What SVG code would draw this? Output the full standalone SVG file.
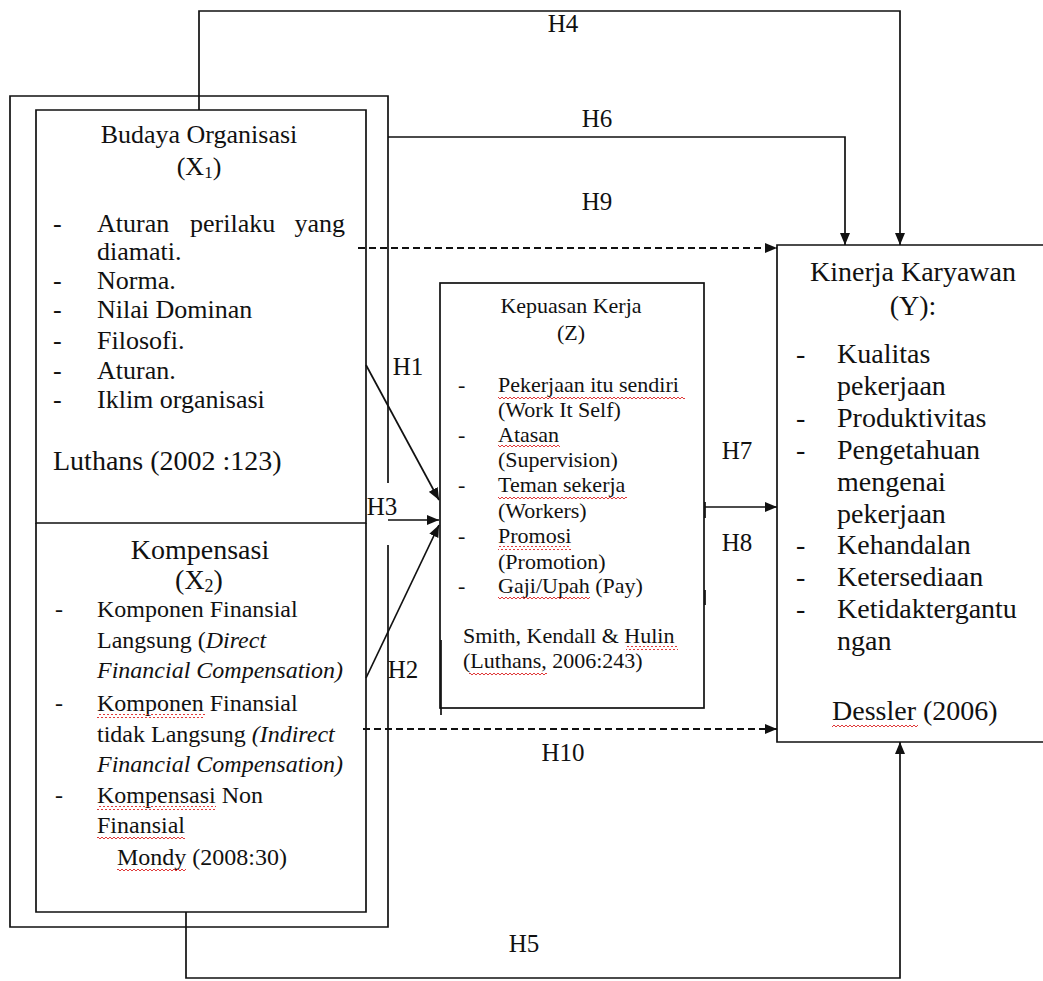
<svg xmlns="http://www.w3.org/2000/svg" width="1043" height="981" viewBox="0 0 1043 981" font-family="'Liberation Serif', 'DejaVu Serif', serif">
<style>
text{font-family:'Liberation Serif','DejaVu Serif',serif;fill:#111}
.t26{font-size:26px}.t28{font-size:28px}.t24{font-size:24px}.t22{font-size:22px}
.lbl{font-size:25px;text-anchor:middle}
.mid{text-anchor:middle}
.it{font-style:italic}
.box{fill:none;stroke:#111;stroke-width:1.7}
.ln{fill:none;stroke:#111;stroke-width:1.7}
.dash{fill:none;stroke:#111;stroke-width:1.8;stroke-dasharray:7 4}
.wv{fill:url(#wavy)}
</style>
<defs>
<marker id="arr" markerUnits="userSpaceOnUse" markerWidth="13" markerHeight="10" refX="12" refY="5" orient="auto">
<path d="M0,0 L12,5 L0,10 z" fill="#111"/>
</marker>
<pattern id="wavy" width="4" height="4" patternUnits="userSpaceOnUse">
<path d="M0,3 L2,1 L4,3" fill="none" stroke="#d22" stroke-width="0.9"/>
</pattern>
</defs>
<rect width="1043" height="981" fill="#fff"/>

<g id="outer-box">
<path class="box" d="M388,483 V96 H10 V927 H388 V545"/>
</g>

<g id="budaya-organisasi">
<path class="box" d="M36,523 V110 H366 V523 Z"/>
<text class="t26 mid" x="199" y="143">Budaya Organisasi</text>
<text class="t26 mid" x="199" y="175">(X<tspan font-size="17" dy="3">1</tspan><tspan dy="-3">)</tspan></text>
<text class="t26" x="53" y="232">-</text>
<text class="t26" x="97" y="232">Aturan</text>
<text class="t26" x="190" y="232">perilaku</text>
<text class="t26" x="345" y="232" text-anchor="end">yang</text>
<text class="t26" x="97" y="260">diamati.</text>
<text class="t26" x="53" y="289">-</text>
<text class="t26" x="97" y="289">Norma.</text>
<text class="t26" x="53" y="318">-</text>
<text class="t26" x="97" y="318">Nilai Dominan</text>
<text class="t26" x="53" y="349">-</text>
<text class="t26" x="97" y="349">Filosofi.</text>
<text class="t26" x="53" y="379">-</text>
<text class="t26" x="97" y="379">Aturan.</text>
<text class="t26" x="53" y="408">-</text>
<text class="t26" x="97" y="408">Iklim organisasi</text>
<text class="t28" x="53" y="470">Luthans (2002 :123)</text>
</g>

<g id="kompensasi">
<path class="box" d="M36,523 V912 H366 V523"/>
<text class="t28 mid" x="200" y="559">Kompensasi</text>
<text class="t28 mid" x="199" y="589">(X<tspan font-size="18" dy="3">2</tspan><tspan dy="-3">)</tspan></text>
<text class="t24" x="55" y="617">-</text>
<text class="t24" x="97" y="617">Komponen Finansial</text>
<text class="t24" x="97" y="648">Langsung (<tspan class="it">Direct</tspan></text>
<text class="t24 it" x="97" y="678">Financial Compensation)</text>
<text class="t24" x="55" y="711">-</text>
<text class="t24" x="97" y="711">Komponen Finansial</text>
<rect class="wv" x="97" y="714" width="108" height="4"/>
<text class="t24" x="97" y="742">tidak Langsung <tspan class="it">(Indirect</tspan></text>
<text class="t24 it" x="97" y="772">Financial Compensation)</text>
<text class="t24" x="55" y="803">-</text>
<text class="t24" x="97" y="803">Kompensasi Non</text>
<rect class="wv" x="97" y="806" width="119" height="4"/>
<text class="t24" x="97" y="833">Finansial</text>
<rect class="wv" x="97" y="836" width="88" height="4"/>
<text class="t24" x="117" y="865">Mondy (2008:30)</text>
<rect class="wv" x="117" y="868" width="69" height="4"/>
</g>

<g id="kepuasan-kerja">
<rect class="box" x="440" y="283" width="264" height="425"/>
<path class="ln" d="M441,640 V715"/>
<path class="ln" stroke-width="3" d="M705,502 V518 M705,590 V605"/>
<text class="t22 mid" x="571" y="313">Kepuasan Kerja</text>
<text class="t22 mid" x="571" y="340">(Z)</text>
<text class="t22" x="458" y="392">-</text>
<text class="t22" x="498" y="392">Pekerjaan itu sendiri</text>
<rect class="wv" x="498" y="395" width="187" height="4"/>
<text class="t22" x="498" y="417">(Work It Self)</text>
<text class="t22" x="458" y="442">-</text>
<text class="t22" x="498" y="442">Atasan</text>
<rect class="wv" x="498" y="445" width="62" height="4"/>
<text class="t22" x="498" y="467">(Supervision)</text>
<text class="t22" x="458" y="492">-</text>
<text class="t22" x="498" y="492">Teman sekerja</text>
<rect class="wv" x="498" y="495" width="129" height="4"/>
<text class="t22" x="498" y="518">(Workers)</text>
<text class="t22" x="458" y="543">-</text>
<text class="t22" x="498" y="543">Promosi</text>
<rect class="wv" x="498" y="546" width="73" height="4"/>
<text class="t22" x="498" y="569">(Promotion)</text>
<text class="t22" x="458" y="593">-</text>
<text class="t22" x="498" y="593">Gaji/Upah (Pay)</text>
<rect class="wv" x="498" y="596" width="92" height="4"/>
<text class="t22" x="463" y="643">Smith, Kendall &amp; Hulin</text>
<rect class="wv" x="626" y="646" width="52" height="4"/>
<text class="t22" x="463" y="668">(Luthans, 2006:243)</text>
<rect class="wv" x="469" y="671" width="78" height="4"/>
</g>

<g id="kinerja-karyawan">
<path class="box" d="M1050,245 H777 V742 H1050"/>
<text class="t28 mid" x="913" y="281">Kinerja Karyawan</text>
<text class="t28 mid" x="913" y="315">(Y):</text>
<text class="t28" x="796" y="363">-</text>
<text class="t28" x="837" y="363">Kualitas</text>
<text class="t28" x="837" y="395">pekerjaan</text>
<text class="t28" x="796" y="427">-</text>
<text class="t28" x="837" y="427">Produktivitas</text>
<text class="t28" x="796" y="459">-</text>
<text class="t28" x="837" y="459">Pengetahuan</text>
<text class="t28" x="837" y="491">mengenai</text>
<text class="t28" x="837" y="523">pekerjaan</text>
<text class="t28" x="796" y="554">-</text>
<text class="t28" x="837" y="554">Kehandalan</text>
<text class="t28" x="796" y="586">-</text>
<text class="t28" x="837" y="586">Ketersediaan</text>
<text class="t28" x="796" y="618">-</text>
<text class="t28" x="837" y="618">Ketidaktergantu</text>
<text class="t28" x="837" y="650">ngan</text>
<text class="t28" x="832" y="720">Dessler (2006)</text>
<rect class="wv" x="832" y="724" width="86" height="4"/>
</g>

<g id="connectors">
<path class="ln" marker-end="url(#arr)" d="M199,110 V11 H900 V245"/>
<path class="ln" marker-end="url(#arr)" d="M388,137 H845 V245"/>
<path class="dash" marker-end="url(#arr)" d="M358,248 H777"/>
<path class="ln" marker-end="url(#arr)" d="M366,365 L439,500"/>
<path class="ln" marker-end="url(#arr)" d="M388,520 H439"/>
<path class="ln" marker-end="url(#arr)" d="M366,678 L439,525"/>
<path class="ln" marker-end="url(#arr)" d="M705,507 H777"/>
<path class="dash" marker-end="url(#arr)" d="M363,729 H777"/>
<path class="ln" marker-end="url(#arr)" d="M186,912 V978 H900 V742"/>
</g>

<g id="labels">
<text class="lbl" x="563" y="32">H4</text>
<text class="lbl" x="597" y="127">H6</text>
<text class="lbl" x="597" y="210">H9</text>
<text class="lbl" x="408" y="375">H1</text>
<text class="lbl" x="382" y="515">H3</text>
<text class="lbl" x="403" y="678">H2</text>
<text class="lbl" x="737" y="459">H7</text>
<text class="lbl" x="737" y="551">H8</text>
<text class="lbl" x="563" y="761">H10</text>
<text class="lbl" x="524" y="952">H5</text>
</g>
</svg>
